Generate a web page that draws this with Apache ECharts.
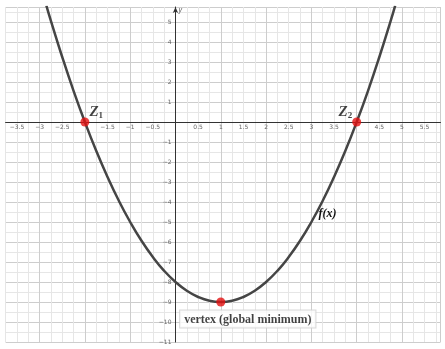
<!DOCTYPE html>
<html>
<head>
    <meta charset="UTF-8">
    <title>f(x) parabola</title>
    <script src="https://cdn.jsdelivr.net/npm/echarts@6/dist/echarts.min.js"></script>
    <style>
        * { margin: 0; padding: 0; }
        body { background: #fff; }
        #chart { width: 445px; height: 349px; }
    </style>
</head>
<body>
    <div id="chart"></div>
    <script>
        // curve points
        const curveX = [-2.85, -2.75, -2.5, -2.25, -2, -1.75, -1.5, -1.25, -1, -0.75, -0.5, -0.25, 0,
            0.25, 0.5, 0.75, 1, 1.25, 1.5, 1.75, 2, 2.25, 2.5, 2.75, 3, 3.25, 3.5, 3.75, 4, 4.25, 4.5, 4.75, 4.85];
        const curveY = [5.82, 5.06, 3.25, 1.56, 0, -1.44, -2.75, -3.94, -5, -5.94, -6.75, -7.44, -8,
            -8.44, -8.75, -8.94, -9, -8.94, -8.75, -8.44, -8, -7.44, -6.75, -5.94, -5, -3.94, -2.75, -1.44, 0, 1.56, 3.25, 5.06, 5.82];

        // marked points: zeros and vertex
        const keyX = [-2, 4, 1];
        const keyY = [0, 0, -9];
        const keyNames = ['Z1', 'Z2', 'vertex (global minimum)'];

        const curveName = 'f(x)';
        const curveLabelAt = 3;  // x where the f(x) label sits

        // axis window
        const xMin = -3.75, xMax = 5.85;
        const yMin = -11, yMax = 5.75;

        const W = 445, H = 349;
        const gridL = 5.6, gridR = 4.5, gridT = 7, gridB = 7;
        // shift the axes so they cross at the origin (labels follow)
        const xZeroPx = (0 - xMin) / (xMax - xMin) * (W - gridL - gridR);
        const yZeroPx = (0 - yMin) / (yMax - yMin) * (H - gridT - gridB);

        const serif = "'Liberation Serif', 'DejaVu Serif', serif";

        const zRich = {
            z: { fontFamily: serif, fontWeight: 'bold', fontStyle: 'italic', fontSize: 15, color: '#111', lineHeight: 16 },
            s: { fontFamily: serif, fontWeight: 'bold', fontSize: 9, color: '#111', lineHeight: 16, verticalAlign: 'bottom', padding: [6, 0, 0, 0] }
        };

        const keyLabels = [
            { show: true, position: 'right', distance: 0, offset: [0, -10], formatter: '{z|Z}{s|1}', rich: zRich },
            { show: true, position: 'left', distance: 0, offset: [0, -10], formatter: '{z|Z}{s|2}', rich: zRich },
            {
                show: true, position: 'bottom', distance: 4, offset: [27, 0],
                formatter: '{b}', fontFamily: serif, fontWeight: 'bold', fontSize: 12, color: '#111',
                backgroundColor: '#fff', borderColor: '#d0d0d0', borderWidth: 1, padding: [3, 4, 2, 4]
            }
        ];

        const curveData = curveX.map((x, i) => {
            const item = { value: [x, curveY[i]] };
            if (x === curveLabelAt) {
                item.label = {
                    show: true, position: 'right', distance: 7, offset: [0, -8],
                    formatter: curveName, fontFamily: serif, fontWeight: 'bold', fontStyle: 'italic',
                    fontSize: 12, color: '#111'
                };
            }
            return item;
        });

        const keyData = keyX.map((x, i) => ({ name: keyNames[i], value: [x, keyY[i]], label: keyLabels[i] }));

        const tickFont = { fontSize: 6, color: '#666', fontFamily: 'DejaVu Sans' };

        const chart = echarts.init(document.getElementById('chart'));
        chart.setOption({
            animation: false,
            backgroundColor: '#fff',
            grid: { left: gridL, right: gridR, top: gridT, bottom: gridB, containLabel: false, outerBoundsMode: 'none' },
            xAxis: {
                type: 'value',
                min: xMin,
                max: xMax,
                interval: 0.25,
                position: 'bottom',
                offset: -yZeroPx,
                axisLine: { onZero: false, lineStyle: { color: '#333', width: 1 } },
                axisTick: { show: false },
                axisLabel: Object.assign({
                    margin: 2,
                    formatter: v => {
                        if (Math.abs(v * 2 - Math.round(v * 2)) > 1e-6) return '';
                        if (v === 0 || v === -2 || v === 4) return '';
                        return String(v).replace('-', '\u2212');
                    }
                }, tickFont),
                splitLine: { show: true, lineStyle: { color: ['#e6e6e6', '#e6e6e6', '#e6e6e6', '#cdcdcd'], width: 1 } }
            },
            yAxis: {
                type: 'value',
                min: yMin,
                max: yMax,
                interval: 0.5,
                position: 'left',
                offset: -xZeroPx,
                name: 'y',
                nameLocation: 'end',
                nameGap: -7,
                nameTextStyle: { fontSize: 7, fontStyle: 'italic', color: '#555', align: 'left', padding: [0, 0, 0, 3] },
                axisLine: { onZero: false, symbol: ['none', 'arrow'], symbolSize: [4, 6], lineStyle: { color: '#333', width: 1 } },
                axisTick: { show: false },
                axisLabel: Object.assign({
                    margin: 4,
                    formatter: v => (Number.isInteger(v) && v !== 0) ? String(v).replace('-', '\u2212') : ''
                }, tickFont),
                splitLine: { show: true, lineStyle: { color: ['#cdcdcd', '#e6e6e6'], width: 1 } }
            },
            series: [
                {
                    name: curveName,
                    type: 'line',
                    smooth: true,
                    showSymbol: true,
                    symbol: 'circle',
                    symbolSize: 0,
                    data: curveData,
                    lineStyle: { color: '#454545', width: 2.5 },
                    z: 3
                },
                {
                    type: 'scatter',
                    data: keyData,
                    symbolSize: 9,
                    itemStyle: { color: '#e41010' },
                    z: 4
                }
            ]
        });
    </script>
</body>
</html>
